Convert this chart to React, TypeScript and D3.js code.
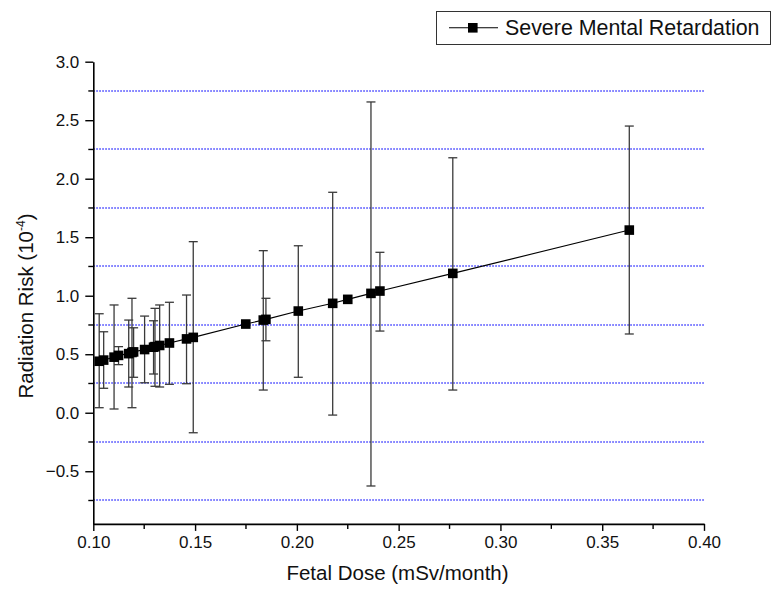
import { useEffect, useRef } from "react";
import * as d3 from "d3";

// fetal dose (mSv/month)
const doses = [
  0.1029, 0.1051, 0.1102, 0.1124, 0.1174, 0.119, 0.1198, 0.1252, 0.1296, 0.1303,
  0.1326, 0.1374, 0.1458, 0.1491, 0.1749, 0.1835, 0.1848, 0.2007, 0.2176, 0.225,
  0.2364, 0.2408, 0.2766, 0.3633,
];
// radiation risk (10^-4)
const risks = [
  0.44, 0.45, 0.475, 0.49, 0.505, 0.515, 0.52, 0.54, 0.56, 0.565,
  0.575, 0.596, 0.631, 0.644, 0.758, 0.792, 0.798, 0.869, 0.935, 0.969,
  1.02, 1.04, 1.191, 1.561,
];
// error bar ends (null = no bar)
const upper = [
  0.846, 0.692, 0.921, 0.565, 0.792, 0.978, 0.726, 0.826, 0.786, 0.892,
  0.921, 0.944, 1.006, 1.462, null, 1.385, 0.978, 1.427, 1.884, null,
  2.656, 1.371, 2.179, 2.45,
];
const lower = [
  0.043, 0.209, 0.032, 0.411, 0.22, 0.043, 0.303, 0.256, 0.331, 0.226,
  0.22, 0.243, 0.248, -0.171, null, 0.194, 0.615, 0.303, -0.02, null,
  -0.626, 0.698, 0.194, 0.673,
];

const xTicks = [0.1, 0.15, 0.2, 0.25, 0.3, 0.35, 0.4];
const xMinor = [0.125, 0.175, 0.225, 0.275, 0.325, 0.375];
const yTicks = [-0.5, 0, 0.5, 1, 1.5, 2, 2.5, 3];
const yMinor = [-0.75, -0.25, 0.25, 0.75, 1.25, 1.75, 2.25, 2.75];

const FONT = "'Liberation Sans', Arial, Helvetica, sans-serif";

export default function App() {
  const ref = useRef<SVGSVGElement>(null);

  useEffect(() => {
    const svg = d3.select(ref.current);
    svg.selectAll("*").remove();

    const x = d3.scaleLinear().domain([0.1, 0.4]).range([93.3, 704]);
    const y = d3.scaleLinear().domain([-0.95, 3.0]).range([523.9, 61.7]);

    // grid lines at minor ticks
    svg.append("g")
      .selectAll("line")
      .data(yMinor)
      .enter().append("line")
      .attr("x1", x(0.1))
      .attr("x2", x(0.4))
      .attr("y1", d => Math.round(y(d)))
      .attr("y2", d => Math.round(y(d)))
      .attr("stroke", "#3a3aff")
      .attr("stroke-width", 1.4)
      .attr("stroke-dasharray", "1.5,1.5");

    // y axis
    const yAxis = svg.append("g")
      .attr("transform", `translate(${x(0.1)},0)`)
      .call(d3.axisLeft(y).tickValues(yTicks).tickFormat(d3.format(".1f")).tickSize(8).tickSizeOuter(0).tickPadding(6));
    yAxis.select(".domain").attr("stroke-width", 1.6);
    yAxis.selectAll(".tick line").attr("stroke-width", 1.4);
    yAxis.selectAll("text").style("font-family", FONT).style("font-size", "17px").attr("fill", "#111");
    svg.append("g")
      .selectAll("line")
      .data(yMinor)
      .enter().append("line")
      .attr("x1", x(0.1) - 5)
      .attr("x2", x(0.1))
      .attr("y1", d => y(d))
      .attr("y2", d => y(d))
      .attr("stroke", "#000")
      .attr("stroke-width", 1.4);

    // x axis
    const xAxis = svg.append("g")
      .attr("transform", `translate(0,${y(-0.95)})`)
      .call(d3.axisBottom(x).tickValues(xTicks).tickFormat(d3.format(".2f")).tickSize(7).tickSizeOuter(0).tickPadding(5));
    xAxis.select(".domain").attr("stroke-width", 1.6);
    xAxis.selectAll(".tick line").attr("stroke-width", 1.4);
    xAxis.selectAll("text").style("font-family", FONT).style("font-size", "17px").attr("fill", "#111");
    svg.append("g")
      .selectAll("line")
      .data(xMinor)
      .enter().append("line")
      .attr("x1", d => x(d))
      .attr("x2", d => x(d))
      .attr("y1", y(-0.95))
      .attr("y2", y(-0.95) + 5)
      .attr("stroke", "#000")
      .attr("stroke-width", 1.4);

    const points = doses.map((d, i) => ({ d, r: risks[i], hi: upper[i], lo: lower[i] }));

    // error bars
    const bars = svg.append("g").attr("stroke", "#3a3a3a").attr("stroke-width", 1.3);
    points.filter(p => p.hi !== null).forEach(p => {
      const cx = x(p.d);
      bars.append("line").attr("x1", cx).attr("x2", cx).attr("y1", y(p.hi!)).attr("y2", y(p.lo!));
      bars.append("line").attr("x1", cx - 4.5).attr("x2", cx + 4.5).attr("y1", y(p.hi!)).attr("y2", y(p.hi!));
      bars.append("line").attr("x1", cx - 4.5).attr("x2", cx + 4.5).attr("y1", y(p.lo!)).attr("y2", y(p.lo!));
    });

    // connecting line
    const line = d3.line<{ d: number; r: number }>().x(p => x(p.d)).y(p => y(p.r));
    svg.append("path")
      .datum(points)
      .attr("d", line)
      .attr("fill", "none")
      .attr("stroke", "#000")
      .attr("stroke-width", 1.1);

    // square markers
    svg.append("g")
      .selectAll("rect")
      .data(points)
      .enter().append("rect")
      .attr("x", p => x(p.d) - 4.8)
      .attr("y", p => y(p.r) - 4.8)
      .attr("width", 9.6)
      .attr("height", 9.6)
      .attr("fill", "#000");

    // axis titles
    svg.append("text")
      .attr("x", 397.5)
      .attr("y", 580)
      .attr("text-anchor", "middle")
      .style("font-family", FONT)
      .style("font-size", "20.5px")
      .attr("fill", "#111")
      .text("Fetal Dose (mSv/month)");

    const yt = svg.append("text")
      .attr("transform", "translate(33,306) rotate(-90)")
      .attr("text-anchor", "middle")
      .style("font-family", FONT)
      .style("font-size", "20.5px")
      .attr("fill", "#111");
    yt.append("tspan").text("Radiation Risk (10");
    yt.append("tspan").attr("dy", -8).style("font-size", "12px").text("-4");
    yt.append("tspan").attr("dy", 8).text(")");

    // legend
    const lg = svg.append("g");
    lg.append("rect")
      .attr("x", 436.5)
      .attr("y", 11.5)
      .attr("width", 334)
      .attr("height", 33)
      .attr("fill", "#fff")
      .attr("stroke", "#333")
      .attr("stroke-width", 1);
    lg.append("line")
      .attr("x1", 449).attr("x2", 498)
      .attr("y1", 27.7).attr("y2", 27.7)
      .attr("stroke", "#000").attr("stroke-width", 1.1);
    lg.append("rect")
      .attr("x", 468).attr("y", 23).attr("width", 9.6).attr("height", 9.6)
      .attr("fill", "#000");
    lg.append("text")
      .attr("x", 505)
      .attr("y", 35)
      .style("font-family", FONT)
      .style("font-size", "21.4px")
      .attr("fill", "#111")
      .text("Severe Mental Retardation");
  }, []);

  return (
    <div style={{ position: "fixed", left: 0, top: 0 }}>
      <svg ref={ref} width={772} height={591} style={{ display: "block", background: "#fff" }} />
    </div>
  );
}
